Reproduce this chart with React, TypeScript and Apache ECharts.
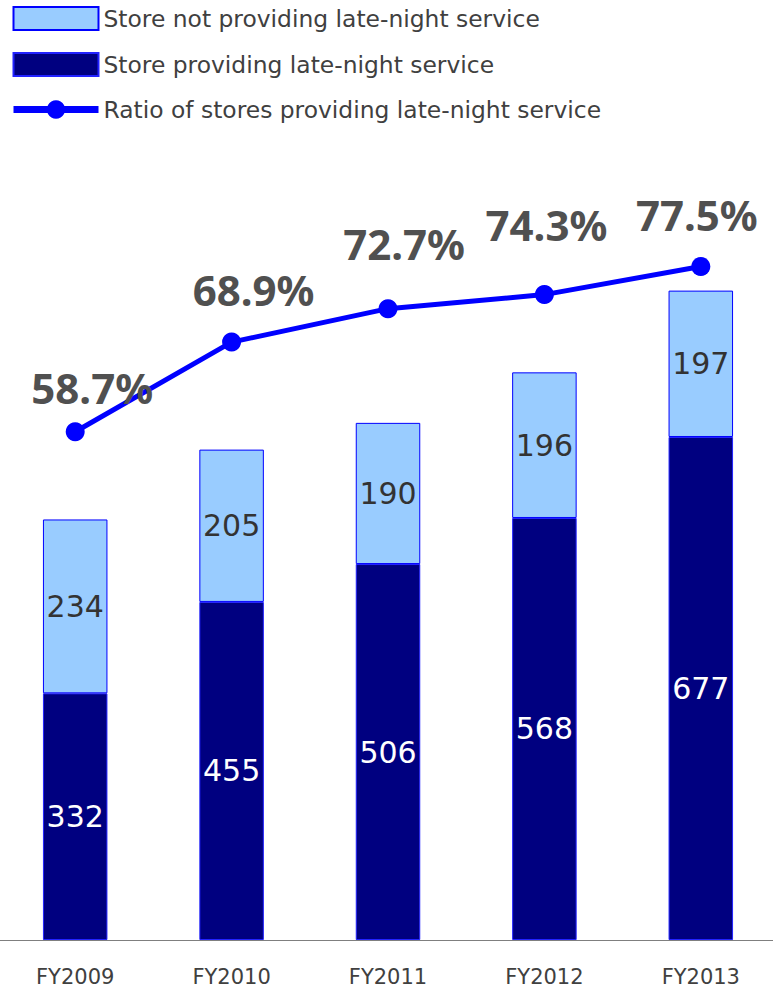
import React, { useEffect, useRef } from "react";
import * as echarts from "echarts";

const categories = ["FY2009", "FY2010", "FY2011", "FY2012", "FY2013"];
const providing = [332, 455, 506, 568, 677];
const notProviding = [234, 205, 190, 196, 197];
const ratio = [58.7, 68.9, 72.7, 74.3, 77.5];
const ratioLabelOffsets = [
  [17, -44],
  [22, -53],
  [16, -65],
  [2, -70],
  [-4, -52],
];

const NAME_NOT = "Store not providing late-night service";
const NAME_PROV = "Store providing late-night service";
const NAME_RATIO = "Ratio of stores providing late-night service";

export default function App() {
  const ref = useRef<HTMLDivElement>(null);
  useEffect(() => {
    if (!ref.current) return;
    const chart = echarts.init(ref.current, undefined, { renderer: "svg" });
    const option: any = {
      animation: false,
      legend: {
        orient: "vertical",
        left: 13,
        top: 6,
        padding: 0,
        itemWidth: 85,
        itemHeight: 23,
        itemGap: 21,
        selectedMode: false,
        textStyle: {
          fontFamily: "DejaVu Sans",
          fontSize: 23.4,
          lineHeight: 23,
          color: "#404040",
        },
        data: [
          { name: NAME_NOT, icon: "rect" },
          { name: NAME_PROV, icon: "rect" },
          { name: NAME_RATIO, lineStyle: { width: 7 } },
        ],
      },
      grid: { left: 0, right: 0, top: 197, bottom: 45.5, containLabel: false },
      xAxis: {
        type: "category",
        data: categories,
        axisTick: { show: false },
        axisLine: { show: true, lineStyle: { color: "#7f7f7f", width: 1 } },
        axisLabel: { fontFamily: "DejaVu Sans", fontSize: 21, color: "#404040", margin: 26 },
      },
      yAxis: [
        { type: "value", min: 0, max: 1000, show: false, splitLine: { show: false } },
        { type: "value", min: 0.9, max: 85.4, show: false, splitLine: { show: false } },
      ],
      series: [
        {
          name: NAME_PROV,
          type: "bar",
          stack: "stores",
          barWidth: 64.5,
          data: providing,
          itemStyle: { color: "#000080", borderColor: "#2222ff", borderWidth: 1 },
          label: {
            show: true,
            position: "inside",
            fontFamily: "DejaVu Sans",
            fontSize: 30,
            color: "#ffffff",
          },
        },
        {
          name: NAME_NOT,
          type: "bar",
          stack: "stores",
          barWidth: 64.5,
          data: notProviding,
          itemStyle: { color: "#99ccff", borderColor: "#0000ff", borderWidth: 1 },
          label: {
            show: true,
            position: "inside",
            fontFamily: "DejaVu Sans",
            fontSize: 30,
            color: "#333333",
          },
        },
        {
          name: NAME_RATIO,
          type: "line",
          yAxisIndex: 1,
          symbol: "circle",
          symbolSize: 19,
          lineStyle: { color: "#0000ff", width: 5 },
          itemStyle: { color: "#0000ff" },
          data: ratio.map((v, i) => ({
            value: v,
            label: { offset: ratioLabelOffsets[i] },
          })),
          label: {
            show: true,
            position: "inside",
            formatter: "{c}%",
            fontFamily: "Noto Sans",
            fontWeight: "bold",
            fontSize: 42,
            color: "#505050",
          },
          z: 5,
        },
      ],
    };
    chart.setOption(option);
    return () => chart.dispose();
  }, []);
  return (
    <div
      ref={ref}
      style={{ position: "fixed", left: -3, top: 0, width: 782, height: 987, background: "#ffffff" }}
    />
  );
}
